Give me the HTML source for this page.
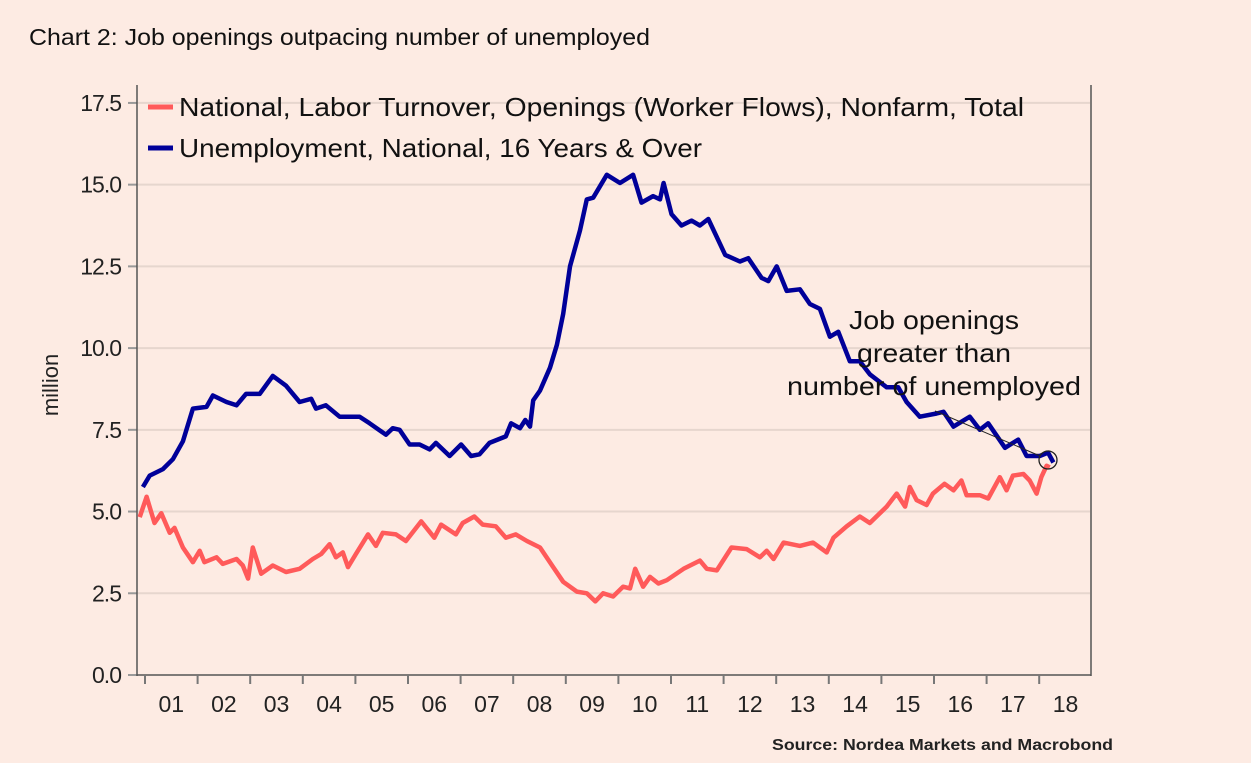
<!DOCTYPE html>
<html><head><meta charset="utf-8">
<style>
html,body{margin:0;padding:0;background:#fdebe3;}
svg{display:block;font-family:"Liberation Sans",sans-serif;}
</style></head>
<body>
<svg id="chart" width="1251" height="763" viewBox="0 0 1251 763">
<rect x="0" y="0" width="1251" height="763" fill="#fdebe3"/>
<text x="29" y="45" font-size="23" fill="#111" textLength="621" lengthAdjust="spacingAndGlyphs">Chart 2: Job openings outpacing number of unemployed</text>
<g id="grid"></g>
<g id="axes"></g>
<g id="series"></g>
<g id="legend">
 <line x1="148" y1="107" x2="173" y2="107" stroke="#ff5a5a" stroke-width="5"/>
 <text x="179" y="116" font-size="26" fill="#111" textLength="845" lengthAdjust="spacingAndGlyphs">National, Labor Turnover, Openings (Worker Flows), Nonfarm, Total</text>
 <line x1="148" y1="148" x2="173" y2="148" stroke="#000099" stroke-width="5"/>
 <text x="179" y="157" font-size="26" fill="#111" textLength="523" lengthAdjust="spacingAndGlyphs">Unemployment, National, 16 Years &amp; Over</text>
</g>
<text transform="translate(58,385) rotate(-90)" text-anchor="middle" font-size="22" fill="#222">million</text>
<g>
 <text x="934" y="329" text-anchor="middle" font-size="26" fill="#111" textLength="170" lengthAdjust="spacingAndGlyphs">Job openings</text>
 <text x="934" y="362" text-anchor="middle" font-size="26" fill="#111" textLength="154" lengthAdjust="spacingAndGlyphs">greater than</text>
 <text x="934" y="395" text-anchor="middle" font-size="26" fill="#111" textLength="294" lengthAdjust="spacingAndGlyphs">number of unemployed</text>
 <line x1="935" y1="411" x2="1040" y2="456" stroke="#222" stroke-width="1"/>
 <circle cx="1048" cy="460" r="9" fill="none" stroke="#222" stroke-width="1.3"/>
</g>
<text x="1113" y="750" text-anchor="end" font-size="16" font-weight="bold" fill="#222" textLength="341" lengthAdjust="spacingAndGlyphs">Source: Nordea Markets and Macrobond</text>
</svg>
<script>
const yTicks = [0, 2.5, 5, 7.5, 10, 12.5, 15, 17.5];
const yTickLabels = ["0.0","2.5","5.0","7.5","10.0","12.5","15.0","17.5"];
const xYears = [2001,2002,2003,2004,2005,2006,2007,2008,2009,2010,2011,2012,2013,2014,2015,2016,2017,2018];
const xLabels = ["01","02","03","04","05","06","07","08","09","10","11","12","13","14","15","16","17","18"];
const openT = [2000.9,2001.03,2001.18,2001.31,2001.47,2001.56,2001.72,2001.91,2002.04,2002.13,2002.36,2002.48,2002.74,2002.86,2002.96,2003.05,2003.21,2003.43,2003.68,2003.94,2004.19,2004.35,2004.51,2004.63,2004.76,2004.86,2005.01,2005.24,2005.39,2005.52,2005.77,2005.96,2006.25,2006.5,2006.63,2006.91,2007.04,2007.26,2007.42,2007.67,2007.86,2008.05,2008.26,2008.51,2008.76,2008.95,2009.21,2009.4,2009.56,2009.71,2009.9,2010.09,2010.22,2010.32,2010.47,2010.6,2010.76,2010.92,2011.24,2011.55,2011.68,2011.87,2012.15,2012.44,2012.69,2012.82,2012.95,2013.14,2013.45,2013.7,2013.96,2014.09,2014.34,2014.59,2014.78,2015.1,2015.29,2015.45,2015.54,2015.67,2015.86,2015.98,2016.2,2016.37,2016.52,2016.62,2016.87,2017.03,2017.25,2017.38,2017.5,2017.7,2017.82,2017.95,2018.04,2018.14,2018.2];
const openV = [4.83,5.45,4.65,4.95,4.35,4.5,3.9,3.45,3.8,3.45,3.6,3.4,3.55,3.35,2.95,3.9,3.1,3.35,3.15,3.25,3.55,3.7,4.0,3.6,3.75,3.3,3.7,4.3,3.95,4.35,4.3,4.1,4.7,4.2,4.6,4.3,4.65,4.85,4.6,4.55,4.2,4.3,4.1,3.9,3.3,2.85,2.55,2.5,2.25,2.5,2.4,2.7,2.65,3.25,2.7,3.0,2.8,2.9,3.25,3.5,3.25,3.2,3.9,3.85,3.6,3.8,3.55,4.05,3.95,4.05,3.75,4.2,4.55,4.85,4.65,5.15,5.55,5.15,5.75,5.35,5.2,5.55,5.85,5.65,5.95,5.5,5.5,5.4,6.05,5.65,6.1,6.15,5.95,5.55,6.05,6.4,6.35];
const unempT = [2000.96,2001.09,2001.34,2001.53,2001.72,2001.91,2002.17,2002.29,2002.55,2002.74,2002.92,2003.18,2003.43,2003.68,2003.94,2004.16,2004.25,2004.44,2004.7,2005.08,2005.27,2005.58,2005.71,2005.84,2006.03,2006.22,2006.41,2006.53,2006.79,2007.01,2007.2,2007.36,2007.55,2007.86,2007.96,2008.13,2008.23,2008.32,2008.38,2008.51,2008.7,2008.83,2008.95,2009.08,2009.27,2009.4,2009.52,2009.78,2010.03,2010.28,2010.44,2010.66,2010.79,2010.86,2011.01,2011.2,2011.39,2011.55,2011.71,2012.03,2012.31,2012.47,2012.72,2012.85,2013.01,2013.2,2013.45,2013.64,2013.83,2014.02,2014.18,2014.4,2014.59,2014.78,2015.1,2015.32,2015.48,2015.73,2016.05,2016.18,2016.37,2016.68,2016.87,2017.03,2017.35,2017.6,2017.76,2018.01,2018.17,2018.27];
const unempV = [5.75,6.1,6.3,6.6,7.15,8.15,8.2,8.55,8.35,8.25,8.6,8.6,9.15,8.85,8.35,8.45,8.15,8.25,7.9,7.9,7.7,7.35,7.55,7.5,7.05,7.05,6.9,7.1,6.7,7.05,6.7,6.75,7.1,7.3,7.7,7.55,7.8,7.6,8.4,8.7,9.4,10.1,11.05,12.5,13.6,14.55,14.6,15.3,15.05,15.3,14.45,14.65,14.55,15.05,14.1,13.75,13.9,13.75,13.95,12.85,12.65,12.75,12.15,12.05,12.5,11.75,11.8,11.35,11.2,10.35,10.5,9.6,9.6,9.2,8.8,8.8,8.35,7.9,8.0,8.05,7.6,7.9,7.5,7.7,6.95,7.2,6.7,6.7,6.8,6.5];

const NS = "http://www.w3.org/2000/svg";
const X0 = 145, XS = 52.6, Y0 = 675, YS = 32.69;
function xScale(t){ return X0 + (t - 2001) * XS; }
function yScale(v){ return Y0 - v * YS; }
function mk(tag, attrs, parent){ const e = document.createElementNS(NS, tag); for (const k in attrs) e.setAttribute(k, attrs[k]); parent.appendChild(e); return e; }

const grid = document.getElementById('grid');
const axes = document.getElementById('axes');
const series = document.getElementById('series');

yTicks.forEach((v, i) => {
  const y = yScale(v);
  if (v > 0) {
    const g = mk('line', {x1:137, x2:1090, y1:y, y2:y, stroke:'#e6d6ce', 'stroke-width':2}, grid);
    
    
  }
  const t = mk('line', {x1:128, x2:137, y1:y, y2:y, stroke:'#999', 'stroke-width':2}, axes);
  
  
  const l = mk('text', {x:121, y:y + 8, 'text-anchor':'end', 'font-size':23, 'letter-spacing':-1, fill:'#222'}, axes);
  l.textContent = yTickLabels[i];
  
  
});

const la = mk('line', {x1:137, x2:137, y1:85, y2:676, stroke:'#555', 'stroke-width':1.5}, axes);


const ba = mk('line', {x1:137, x2:1091, y1:675, y2:675, stroke:'#555', 'stroke-width':1.5}, axes);


const ra = mk('line', {x1:1091, x2:1091, y1:85, y2:676, stroke:'#555', 'stroke-width':1.5}, axes);



xYears.forEach((yr, i) => {
  const x = xScale(yr);
  const t = mk('line', {x1:x, x2:x, y1:675, y2:684, stroke:'#777', 'stroke-width':2}, axes);
  
  
  const l = mk('text', {x:xScale(yr + 0.5), y:712, 'text-anchor':'middle', 'font-size':23, fill:'#222'}, axes);
  l.textContent = xLabels[i];
  
  
});

function pathFor(ts, vs){ return ts.map((t, i) => (i ? 'L' : 'M') + xScale(t).toFixed(1) + ',' + yScale(vs[i]).toFixed(1)).join(' '); }
const pr = mk('path', {d:pathFor(openT, openV), fill:'none', stroke:'#ff5a5a', 'stroke-width':4.5, 'stroke-linejoin':'round'}, series);


const pb = mk('path', {d:pathFor(unempT, unempV), fill:'none', stroke:'#000099', 'stroke-width':4.5, 'stroke-linejoin':'round'}, series);


</script>
</body></html>
